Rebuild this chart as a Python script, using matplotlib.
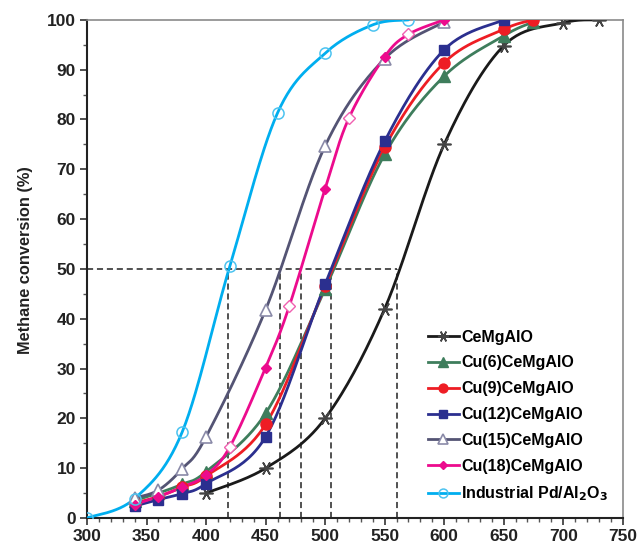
import numpy as np
import matplotlib.pyplot as plt
from matplotlib.lines import Line2D

plt.rcParams['font.family'] = ['Liberation Sans', 'DejaVu Sans']
plt.rcParams['font.weight'] = 'bold'

# data (temperature in C, conversion in %)
t_ce = [400, 450, 500, 550, 600, 650, 700, 730]
y_ce = [5, 10, 20, 42, 75, 94.8, 99.4, 100]

t_cu = [340, 360, 380, 400, 450, 500, 550, 600, 650, 675]
y_cu6 = [3.5, 5, 6.8, 9.3, 21, 46, 73, 88.7, 96.8, 99.6]
y_cu9 = [3, 4.3, 6.2, 8.4, 18.8, 46.5, 74.4, 91.4, 98.1, 100]
t_cu12 = [340, 360, 380, 400, 450, 500, 550, 600, 650]
y_cu12 = [2.4, 3.7, 4.9, 6.9, 16.3, 46.9, 75.6, 94, 100]
t_cu15 = [340, 360, 380, 400, 450, 500, 550, 600]
y_cu15 = [4, 5.6, 9.9, 16.3, 41.8, 74.7, 92.2, 99.6]
t_cu18 = [340, 360, 380, 400, 420, 450, 470, 500, 520, 550, 570, 600]
y_cu18 = [2.7, 4.3, 6.2, 8.6, 14.3, 30.2, 42.6, 66.1, 80.3, 92.6, 97.1, 100]
hollow18 = [420, 470, 520, 570]
t_pd = [300, 340, 380, 420, 460, 500, 540, 570]
y_pd = [0, 3.9, 17.3, 50.6, 81.3, 93.3, 99, 100]

# T50 guide lines
t50 = [418.6, 462.2, 479.4, 504.7, 560]


def smooth(xs, ys, n=30):
    # Catmull-Rom style smoothing (like Excel smoothed lines), done in screen-ish units
    sx, sy = 1.19, 4.99
    p = np.column_stack([np.asarray(xs, float) * sx, np.asarray(ys, float) * sy])
    p = np.vstack([p[0], p, p[-1]])
    out = []
    for i in range(1, len(p) - 2):
        p0, p1, p2, p3 = p[i - 1], p[i], p[i + 1], p[i + 2]
        c1 = p1 + (p2 - p0) / 6
        c2 = p2 - (p3 - p1) / 6
        s = np.linspace(0, 1, n)[:, None]
        b = (1 - s) ** 3 * p1 + 3 * (1 - s) ** 2 * s * c1 + 3 * (1 - s) * s ** 2 * c2 + s ** 3 * p2
        out.append(b if i == 1 else b[1:])
    b = np.vstack(out)
    return b[:, 0] / sx, b[:, 1] / sy


fig = plt.figure(figsize=(6.4, 5.52), dpi=100)
ax = fig.add_axes([0.136, 0.0616, 0.837, 0.9024])

# dashed guides
ax.plot([300, t50[-1]], [50, 50], ls='--', color='#222222', lw=1.1, dashes=(4, 2.5))
for t in t50:
    ax.plot([t, t], [0, 50], ls='--', color='#222222', lw=1.1, dashes=(4, 2.5))

series = [
    (t_ce, y_ce, '#1a1a1a', (6, 2, 90), 'CeMgAlO', dict(ms=10, mec='#444444', mew=1.2)),
    (t_cu, y_cu6, '#3e7d5c', '^', 'Cu(6)CeMgAlO', dict(ms=8.5, mfc='#3e7d5c', mec='#3e7d5c')),
    (t_cu, y_cu9, '#ee1d24', 'o', 'Cu(9)CeMgAlO', dict(ms=8, mfc='#ee1d24', mec='#ee1d24')),
    (t_cu12, y_cu12, '#2b2f8f', 's', 'Cu(12)CeMgAlO', dict(ms=7.5, mfc='#2b2f8f', mec='#2b2f8f')),
    (t_cu15, y_cu15, '#545474', '^', 'Cu(15)CeMgAlO', dict(ms=8.5, mfc='white', mec='#8a8aa8', mew=1.2)),
    (t_cu18, y_cu18, '#ec0b8d', 'D', 'Cu(18)CeMgAlO', dict(ms=5.5, mfc='#ec0b8d', mec='#ec0b8d')),
    (t_pd, y_pd, '#00aeef', 'o', 'Industrial Pd/Al$_2$O$_3$', dict(ms=8, mfc='none', mec='#4cc3f0', mew=1.1)),
]

handles = []
for xs, ys, col, mk, lab, kw in series:
    sxs, sys_ = smooth(xs, ys)
    ax.plot(sxs, sys_, color=col, lw=2, solid_capstyle='round', zorder=3)
    if lab.startswith('Cu(18)'):
        fx = [x for x in xs if x not in hollow18]
        fy = [y for x, y in zip(xs, ys) if x not in hollow18]
        hx = [x for x in xs if x in hollow18]
        hy = [y for x, y in zip(xs, ys) if x in hollow18]
        ax.plot(fx, fy, ls='none', marker=mk, zorder=4, **kw)
        ax.plot(hx, hy, ls='none', marker=mk, ms=6, mfc='white', mec='#f060b0', mew=1, zorder=4)
    else:
        ax.plot(xs, ys, ls='none', marker=mk, zorder=4, **kw)
    handles.append(Line2D([], [], color=col, lw=2, marker=mk, label=lab, **kw))

ax.set_xlim(300, 750)
ax.set_ylim(0, 100)
ax.set_xticks(np.arange(300, 751, 50))
ax.set_yticks(np.arange(0, 101, 10))
ax.set_xticks(np.arange(300, 751, 10), minor=True)
ax.set_yticks(np.arange(0, 101, 5), minor=True)
ax.tick_params(axis='both', which='major', labelsize=12.5, length=5, width=1.2, color='#333333', pad=3)
ax.tick_params(axis='both', which='minor', length=3, width=1, color='#555555')
for lbl in ax.get_xticklabels() + ax.get_yticklabels():
    lbl.set_fontweight('bold')
    lbl.set_color('#222222')

for side in ['left', 'bottom']:
    ax.spines[side].set_color('#222222')
    ax.spines[side].set_linewidth(1.5)
for side in ['top', 'right']:
    ax.spines[side].set_color('#8a8a8a')
    ax.spines[side].set_linewidth(1.2)

ax.set_ylabel('Methane conversion (%)', fontsize=11.8, fontweight='bold', color='#222222',
              ha='center', va='center')
ax.yaxis.set_label_coords(-0.114, 0.518)

ax.legend(handles=handles, loc='upper left', bbox_to_anchor=(0.669, 0.403),
          bbox_transform=fig.transFigure, frameon=False, markerscale=0.8,
          handlelength=1.9, handletextpad=0.15, labelspacing=0.68,
          borderpad=0, borderaxespad=0, prop={'weight': 'bold', 'size': 11.5})

fig.savefig('out.png', dpi=100)
